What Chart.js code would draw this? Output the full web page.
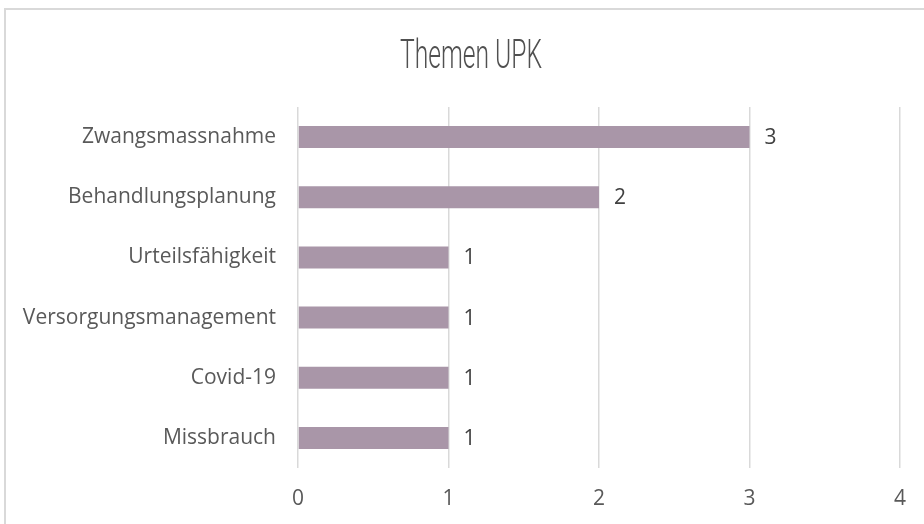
<!DOCTYPE html>
<html>
<head>
<meta charset="utf-8">
<script src="https://cdn.jsdelivr.net/npm/chart.js@4"></script>
<style>
  html,body{margin:0;padding:0;background:#fff;}
  #wrap{position:relative;width:924px;height:524px;overflow:hidden;}
  #frame{position:absolute;left:4px;top:8px;width:940px;height:540px;border:2px solid #d9d9d9;box-sizing:border-box;}
  canvas{position:absolute;left:0;top:0;}
</style>
</head>
<body>
<div id="wrap">
  <div id="frame"></div>
  <canvas id="c" width="924" height="524"></canvas>
</div>
<script>
const chartTitle = "Themen UPK";
const categories = ["Zwangsmassnahme","Behandlungsplanung","Urteilsfähigkeit","Versorgungsmanagement","Covid-19","Missbrauch"];
const values = [3,2,1,1,1,1];
const xTicks = [0,1,2,3,4];

const FONT = "'Open Sans', sans-serif";
const FSIZE = 21;

const titlePlugin = {
  id: 'condTitle',
  afterDraw(chart){
    const ctx = chart.ctx;
    ctx.save();
    ctx.font = "300 41px Roboto";
    ctx.fillStyle = "#505050";
    ctx.textBaseline = "alphabetic";
    ctx.textAlign = "center";
    const w = ctx.measureText(chartTitle).width;
    const sx = 142 / w;
    ctx.translate(471, 68);
    ctx.scale(sx, 1);
    ctx.fillText(chartTitle, 0, 0);
    ctx.restore();
  }
};

const valueLabels = {
  id: 'valueLabels',
  afterDatasetsDraw(chart){
    const ctx = chart.ctx;
    const meta = chart.getDatasetMeta(0);
    ctx.save();
    ctx.font = FSIZE + "px " + FONT;
    ctx.fillStyle = "#404040";
    ctx.textAlign = "left";
    ctx.textBaseline = "middle";
    meta.data.forEach((bar, i) => {
      ctx.fillText(String(values[i]), bar.x + 15, bar.y + 1);
    });
    ctx.restore();
  }
};

new Chart(document.getElementById('c'), {
  type: 'bar',
  data: {
    labels: categories,
    datasets: [{
      data: values,
      backgroundColor: '#a996a8',
      borderWidth: 0,
      barPercentage: 0.365,
      categoryPercentage: 1
    }]
  },
  options: {
    indexAxis: 'y',
    responsive: false,
    animation: false,
    events: [],
    layout: { padding: { top: 107, right: 24, left: 0, bottom: 0 } },
    plugins: { legend: { display: false }, title: { display: false }, tooltip: { enabled: false } },
    scales: {
      x: {
        min: 0, max: 4,
        afterBuildTicks(scale){ scale.ticks = xTicks.map(v => ({value: v})); },
        afterFit(scale){ scale.height = 56; },
        grid: { color: '#d9d9d9', lineWidth: 1.5, drawTicks: false },
        border: { display: false },
        ticks: { color: '#595959', font: { family: FONT, size: FSIZE }, padding: 18 }
      },
      y: {
        afterFit(scale){ scale.width = 298; },
        grid: { display: false, drawTicks: false },
        border: { display: false },
        ticks: { color: '#595959', font: { family: FONT, size: FSIZE }, padding: 22 }
      }
    }
  },
  plugins: [titlePlugin, valueLabels]
});
</script>
</body>
</html>
